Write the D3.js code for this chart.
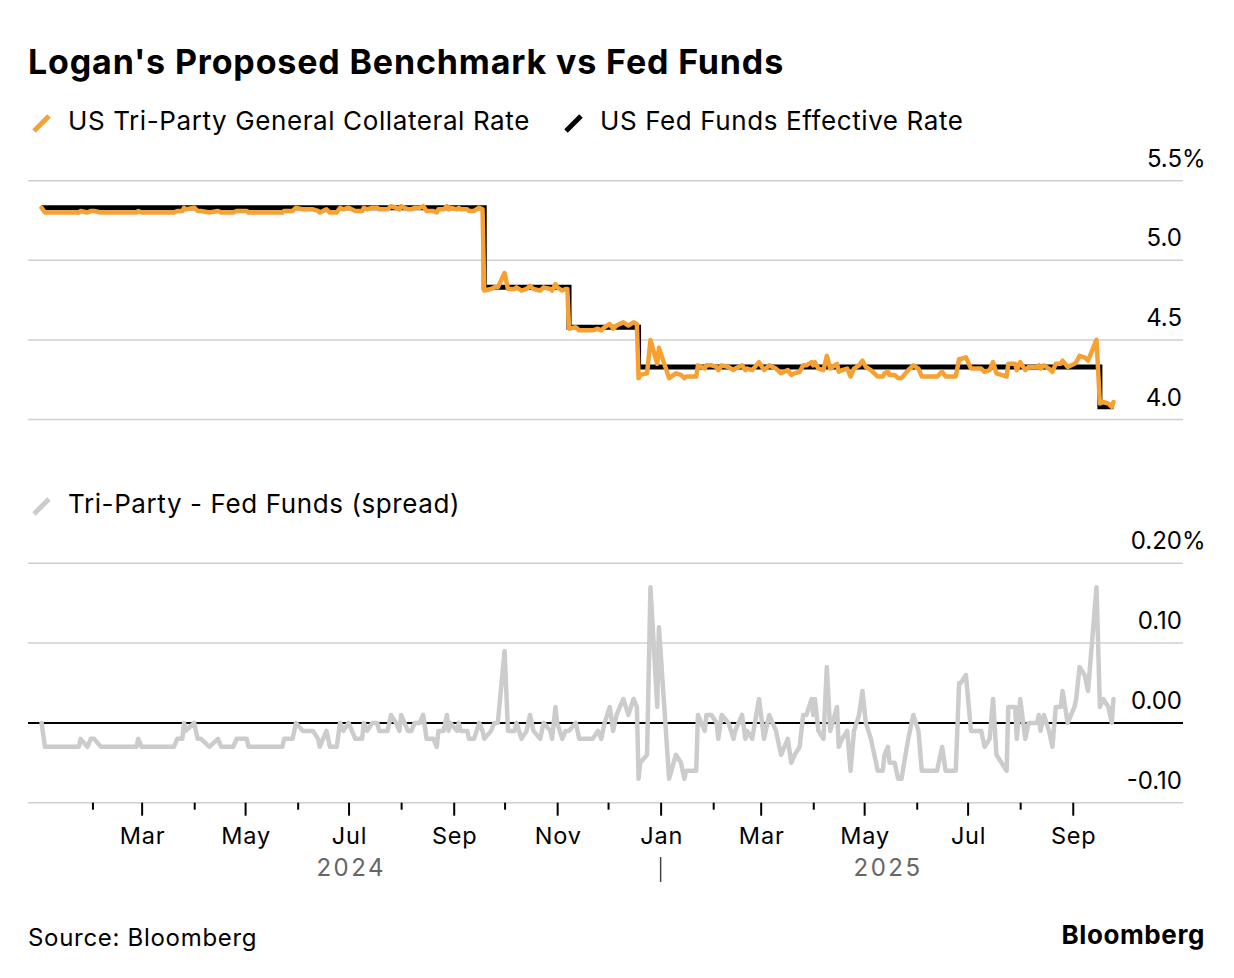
<!DOCTYPE html>
<html>
<head>
<meta charset="utf-8">
<script src="https://cdn.jsdelivr.net/npm/d3@7"></script>
<style>
  body { margin: 0; background: #fff; }
  svg text { font-family: Inter, "Liberation Sans", sans-serif; }
</style>
</head>
<body>
<svg id="chart" width="1234" height="978"></svg>
<script>
// Tri-party minus fed funds (percentage points)
const spreadDates = [
  "2024-01-02","2024-01-04","2024-01-24","2024-01-25","2024-01-29","2024-01-31","2024-02-02","2024-02-06",
  "2024-02-27","2024-02-28","2024-03-01","2024-03-20","2024-03-22","2024-03-25","2024-03-26","2024-03-27",
  "2024-04-01","2024-04-03","2024-04-05","2024-04-10","2024-04-15","2024-04-17","2024-04-24","2024-04-26",
  "2024-05-02","2024-05-03","2024-05-23","2024-05-24","2024-05-29","2024-05-31","2024-06-04","2024-06-10",
  "2024-06-13","2024-06-14","2024-06-18","2024-06-20","2024-06-24","2024-06-26","2024-06-28","2024-07-01",
  "2024-07-05","2024-07-09","2024-07-10","2024-07-12","2024-07-15","2024-07-18","2024-07-19","2024-07-24",
  "2024-07-26","2024-07-29","2024-07-31","2024-08-01","2024-08-05","2024-08-07","2024-08-09","2024-08-12",
  "2024-08-14","2024-08-16","2024-08-20","2024-08-22","2024-08-23","2024-08-26","2024-08-28","2024-08-29",
  "2024-08-30","2024-09-03","2024-09-04","2024-09-05","2024-09-09","2024-09-10","2024-09-13","2024-09-16",
  "2024-09-18","2024-09-19","2024-09-23","2024-09-25","2024-09-27","2024-10-01","2024-10-03","2024-10-07",
  "2024-10-08","2024-10-11","2024-10-14","2024-10-16","2024-10-18","2024-10-22","2024-10-24","2024-10-28",
  "2024-10-29","2024-10-31","2024-11-01","2024-11-04","2024-11-06","2024-11-07","2024-11-08","2024-11-12",
  "2024-11-14","2024-11-22","2024-11-25","2024-11-27","2024-11-29","2024-12-02","2024-12-04","2024-12-06",
  "2024-12-10","2024-12-13","2024-12-16","2024-12-18","2024-12-19","2024-12-20","2024-12-24","2024-12-26",
  "2024-12-30","2024-12-31",
  "2025-01-06","2025-01-10","2025-01-13","2025-01-15","2025-01-16","2025-01-22","2025-01-23","2025-01-27",
  "2025-01-28","2025-01-31","2025-02-03","2025-02-04","2025-02-06","2025-02-10","2025-02-13","2025-02-14",
  "2025-02-18","2025-02-20","2025-02-21","2025-02-24","2025-02-28","2025-03-03","2025-03-06","2025-03-10",
  "2025-03-13","2025-03-17","2025-03-19","2025-03-21","2025-03-24","2025-03-26","2025-03-28","2025-03-31",
  "2025-04-01","2025-04-02","2025-04-04","2025-04-07","2025-04-09","2025-04-11","2025-04-15","2025-04-16",
  "2025-04-18","2025-04-21","2025-04-23","2025-04-25","2025-04-28","2025-04-30","2025-05-02","2025-05-05",
  "2025-05-07","2025-05-09","2025-05-12","2025-05-13","2025-05-15","2025-05-16","2025-05-19","2025-05-21",
  "2025-05-23","2025-05-27","2025-05-30","2025-06-02","2025-06-04","2025-06-13","2025-06-16","2025-06-18",
  "2025-06-24","2025-06-26","2025-06-27","2025-06-30","2025-07-03","2025-07-07","2025-07-09","2025-07-11",
  "2025-07-14","2025-07-16","2025-07-18","2025-07-21","2025-07-24","2025-07-25","2025-07-29","2025-07-30",
  "2025-08-01","2025-08-04","2025-08-06","2025-08-11","2025-08-12","2025-08-13","2025-08-15","2025-08-18",
  "2025-08-20","2025-08-22","2025-08-25","2025-08-26","2025-08-29","2025-09-02","2025-09-03","2025-09-05",
  "2025-09-08","2025-09-10","2025-09-15","2025-09-17","2025-09-19","2025-09-22","2025-09-24","2025-09-25"
];
const spreadValues = [
  0.00,-0.03,-0.03,-0.02,-0.03,-0.02,-0.02,-0.03,
  -0.03,-0.02,-0.03,-0.03,-0.02,-0.02,0.00,-0.01,
  0.00,-0.02,-0.02,-0.03,-0.02,-0.03,-0.03,-0.02,
  -0.02,-0.03,-0.03,-0.02,-0.02,0.00,-0.01,-0.01,
  -0.02,-0.03,-0.01,-0.03,-0.03,0.00,-0.01,0.00,
  -0.02,-0.02,0.00,-0.01,0.00,0.00,-0.01,-0.01,
  0.01,0.00,-0.01,0.01,-0.01,-0.01,0.00,0.00,
  0.01,-0.02,-0.02,-0.03,-0.01,-0.01,0.01,-0.01,
  0.00,-0.01,0.00,-0.01,-0.01,-0.02,-0.02,0.00,
  -0.01,-0.02,-0.01,0.00,0.00,0.09,-0.01,-0.01,
  0.00,-0.02,-0.01,0.01,-0.01,-0.02,0.00,-0.01,
  -0.02,0.02,0.00,-0.02,-0.01,-0.01,-0.01,0.00,
  -0.02,-0.02,-0.01,-0.02,0.00,0.02,-0.01,0.01,
  0.03,0.01,0.03,0.02,-0.07,-0.05,-0.04,0.17,
  0.02,0.12,
  -0.07,-0.04,-0.05,-0.07,-0.06,-0.06,0.01,-0.01,
  0.01,0.01,0.00,-0.02,0.01,0.00,-0.02,-0.01,
  0.01,-0.02,-0.01,-0.02,0.03,-0.02,0.01,-0.01,
  -0.04,-0.02,-0.05,-0.04,-0.03,0.01,0.01,0.03,
  0.01,0.03,-0.01,-0.02,0.07,-0.01,0.02,-0.03,
  -0.02,-0.01,-0.06,-0.01,0.01,0.04,0.00,-0.02,
  -0.04,-0.06,-0.06,-0.04,-0.03,-0.05,-0.05,-0.07,
  -0.07,-0.02,0.01,-0.01,-0.06,-0.06,-0.03,-0.06,
  -0.06,0.05,0.05,0.06,-0.01,-0.01,-0.01,-0.03,
  -0.02,0.03,-0.04,-0.05,-0.06,0.02,0.02,-0.02,
  0.03,-0.02,0.00,0.00,0.01,-0.01,0.01,-0.01,
  -0.03,0.02,0.02,0.04,0.00,0.02,0.03,0.07,
  0.06,0.04,0.17,0.02,0.03,0.02,0.00,0.03
];
// Fed funds effective rate: level from each date onward
const fedDates = ["2024-01-02","2024-09-19","2024-11-08","2024-12-19","2025-09-17","2025-09-25"];
const fedRates = [5.33, 4.83, 4.58, 4.33, 4.08, 4.08];

const rateTicks = [4.0, 4.5, 5.0, 5.5];
const spreadTicks = [-0.10, 0.00, 0.10, 0.20];

const parse = d3.timeParse("%Y-%m-%d");
const svg = d3.select("#chart");

const x = d3.scaleTime()
    .domain([parse("2023-12-25"), parse("2025-11-05")])
    .range([28, 1183]);
const yTop = d3.scaleLinear().domain([4.0, 5.5]).range([419.5, 180.7]);
const yBot = d3.scaleLinear().domain([-0.1, 0.2]).range([802.7, 563.3]);

const fed = fedDates.map((d, i) => ({date: parse(d), v: fedRates[i]}));
function fedOn(date) {
    let v = fed[0].v;
    fed.forEach(f => { if (f.date <= date) v = f.v; });
    return v;
}
const spread = spreadDates.map((d, i) => ({date: parse(d), v: spreadValues[i]}));
// tri-party = fed funds + spread
const triParty = spread.map(s => ({date: s.date, v: +(fedOn(s.date) + s.v).toFixed(2)}));

const orange = "#f7a133", gray = "#cccccc", grid = "#cfcfcf";
const [x0, x1] = x.range();

// title
svg.append("text").attr("x", 28).attr("y", 74)
    .attr("font-size", 34).attr("font-weight", 700).attr("letter-spacing", 0.85)
    .attr("fill", "#000")
    .text("Logan's Proposed Benchmark vs Fed Funds");

function legendItem(lx, ly, color, label) {
    svg.append("line")
        .attr("x1", lx + 2).attr("y1", ly + 1).attr("x2", lx + 17).attr("y2", ly - 14)
        .attr("stroke", color).attr("stroke-width", 5);
    svg.append("text").attr("x", lx + 36).attr("y", ly)
        .attr("font-size", 26).attr("letter-spacing", 0.6)
        .attr("fill", "#000").text(label);
}
legendItem(32, 130, orange, "US Tri-Party General Collateral Rate");
legendItem(564, 130, "#000", "US Fed Funds Effective Rate");
legendItem(32, 513, gray, "Tri-Party - Fed Funds (spread)");

// top panel grid + labels
const topPanel = svg.append("g");
topPanel.selectAll("line.grid").data(rateTicks).enter().append("line")
    .attr("x1", x0).attr("x2", x1)
    .attr("y1", d => yTop(d)).attr("y2", d => yTop(d))
    .attr("stroke", grid).attr("stroke-width", 1.5);
topPanel.selectAll("text.lab").data(rateTicks).enter().append("text")
    .attr("x", 1182).attr("y", d => yTop(d) - 14)
    .attr("text-anchor", "end").attr("font-size", 24).attr("fill", "#000")
    .text(d => d.toFixed(1));
topPanel.append("text").attr("x", 1182).attr("y", yTop(5.5) - 14)
    .attr("font-size", 24).attr("fill", "#000").text("%");

topPanel.append("path").datum(fed)
    .attr("d", d3.line().x(d => x(d.date)).y(d => yTop(d.v)).curve(d3.curveStepAfter))
    .attr("fill", "none").attr("stroke", "#000").attr("stroke-width", 5);
topPanel.append("path").datum(triParty)
    .attr("d", d3.line().x(d => x(d.date)).y(d => yTop(d.v)))
    .attr("fill", "none").attr("stroke", orange).attr("stroke-width", 4.5)
    .attr("stroke-linejoin", "round").attr("stroke-linecap", "round");

// bottom panel
const botPanel = svg.append("g");
botPanel.selectAll("line.grid").data(spreadTicks.filter(d => d !== 0)).enter().append("line")
    .attr("x1", x0).attr("x2", x1)
    .attr("y1", d => yBot(d)).attr("y2", d => yBot(d))
    .attr("stroke", grid).attr("stroke-width", 1.5);
botPanel.append("line").attr("x1", x0).attr("x2", x1)
    .attr("y1", yBot(0)).attr("y2", yBot(0))
    .attr("stroke", "#000").attr("stroke-width", 2);
botPanel.selectAll("text.lab").data(spreadTicks).enter().append("text")
    .attr("x", 1182).attr("y", d => yBot(d) - 14)
    .attr("text-anchor", "end").attr("font-size", 24).attr("fill", "#000")
    .text(d => d.toFixed(2));
botPanel.append("text").attr("x", 1182).attr("y", yBot(0.2) - 14)
    .attr("font-size", 24).attr("fill", "#000").text("%");

botPanel.append("path").datum(spread)
    .attr("d", d3.line().x(d => x(d.date)).y(d => yBot(d.v)))
    .attr("fill", "none").attr("stroke", gray).attr("stroke-width", 4.5)
    .attr("stroke-linejoin", "round").attr("stroke-linecap", "round");

// x axis
const months = d3.timeMonth.range(parse("2024-02-01"), parse("2025-10-01"));
const axis = svg.append("g").attr("transform", `translate(0,${yBot(-0.1)})`)
    .call(d3.axisBottom(x).tickValues(months).tickSizeOuter(0)
        .tickFormat(d => d.getMonth() % 2 === 0 ? d3.timeFormat("%b")(d) : ""));
axis.select(".domain").remove();
axis.selectAll(".tick line")
    .attr("stroke", "#000").attr("stroke-width", 2)
    .attr("y2", d => d.getMonth() % 2 === 0 ? 13 : 7);
axis.selectAll(".tick text")
    .attr("y", 41).attr("dy", 0).attr("dx", 0.5)
    .attr("font-size", 23.5).attr("letter-spacing", 0.8).attr("fill", "#000")
    .attr("font-family", "Inter, 'Liberation Sans', sans-serif");

// year labels
const jan24 = parse("2024-01-01"), jan25 = parse("2025-01-01");
const lastDate = spread[spread.length - 1].date;
const years = [
    {label: "2024", cx: (x(jan24) + x(jan25)) / 2},
    {label: "2025", cx: (x(jan25) + x(lastDate)) / 2}
];
svg.selectAll("text.year").data(years).enter().append("text")
    .attr("x", d => d.cx + 1).attr("y", 876)
    .attr("text-anchor", "middle").attr("font-size", 24)
    .attr("letter-spacing", 2.5).attr("fill", "#666")
    .text(d => d.label);
svg.append("line").attr("x1", x(jan25)).attr("x2", x(jan25))
    .attr("y1", 857).attr("y2", 882)
    .attr("stroke", "#444").attr("stroke-width", 1.5);

// footer
svg.append("text").attr("x", 28).attr("y", 946)
    .attr("font-size", 24).attr("letter-spacing", 0.7)
    .attr("fill", "#000").text("Source: Bloomberg");
svg.append("text").attr("x", 1205).attr("y", 944)
    .attr("text-anchor", "end").attr("font-size", 26).attr("font-weight", 700)
    .attr("letter-spacing", 0.6).attr("fill", "#000").text("Bloomberg");
</script>
</body>
</html>
